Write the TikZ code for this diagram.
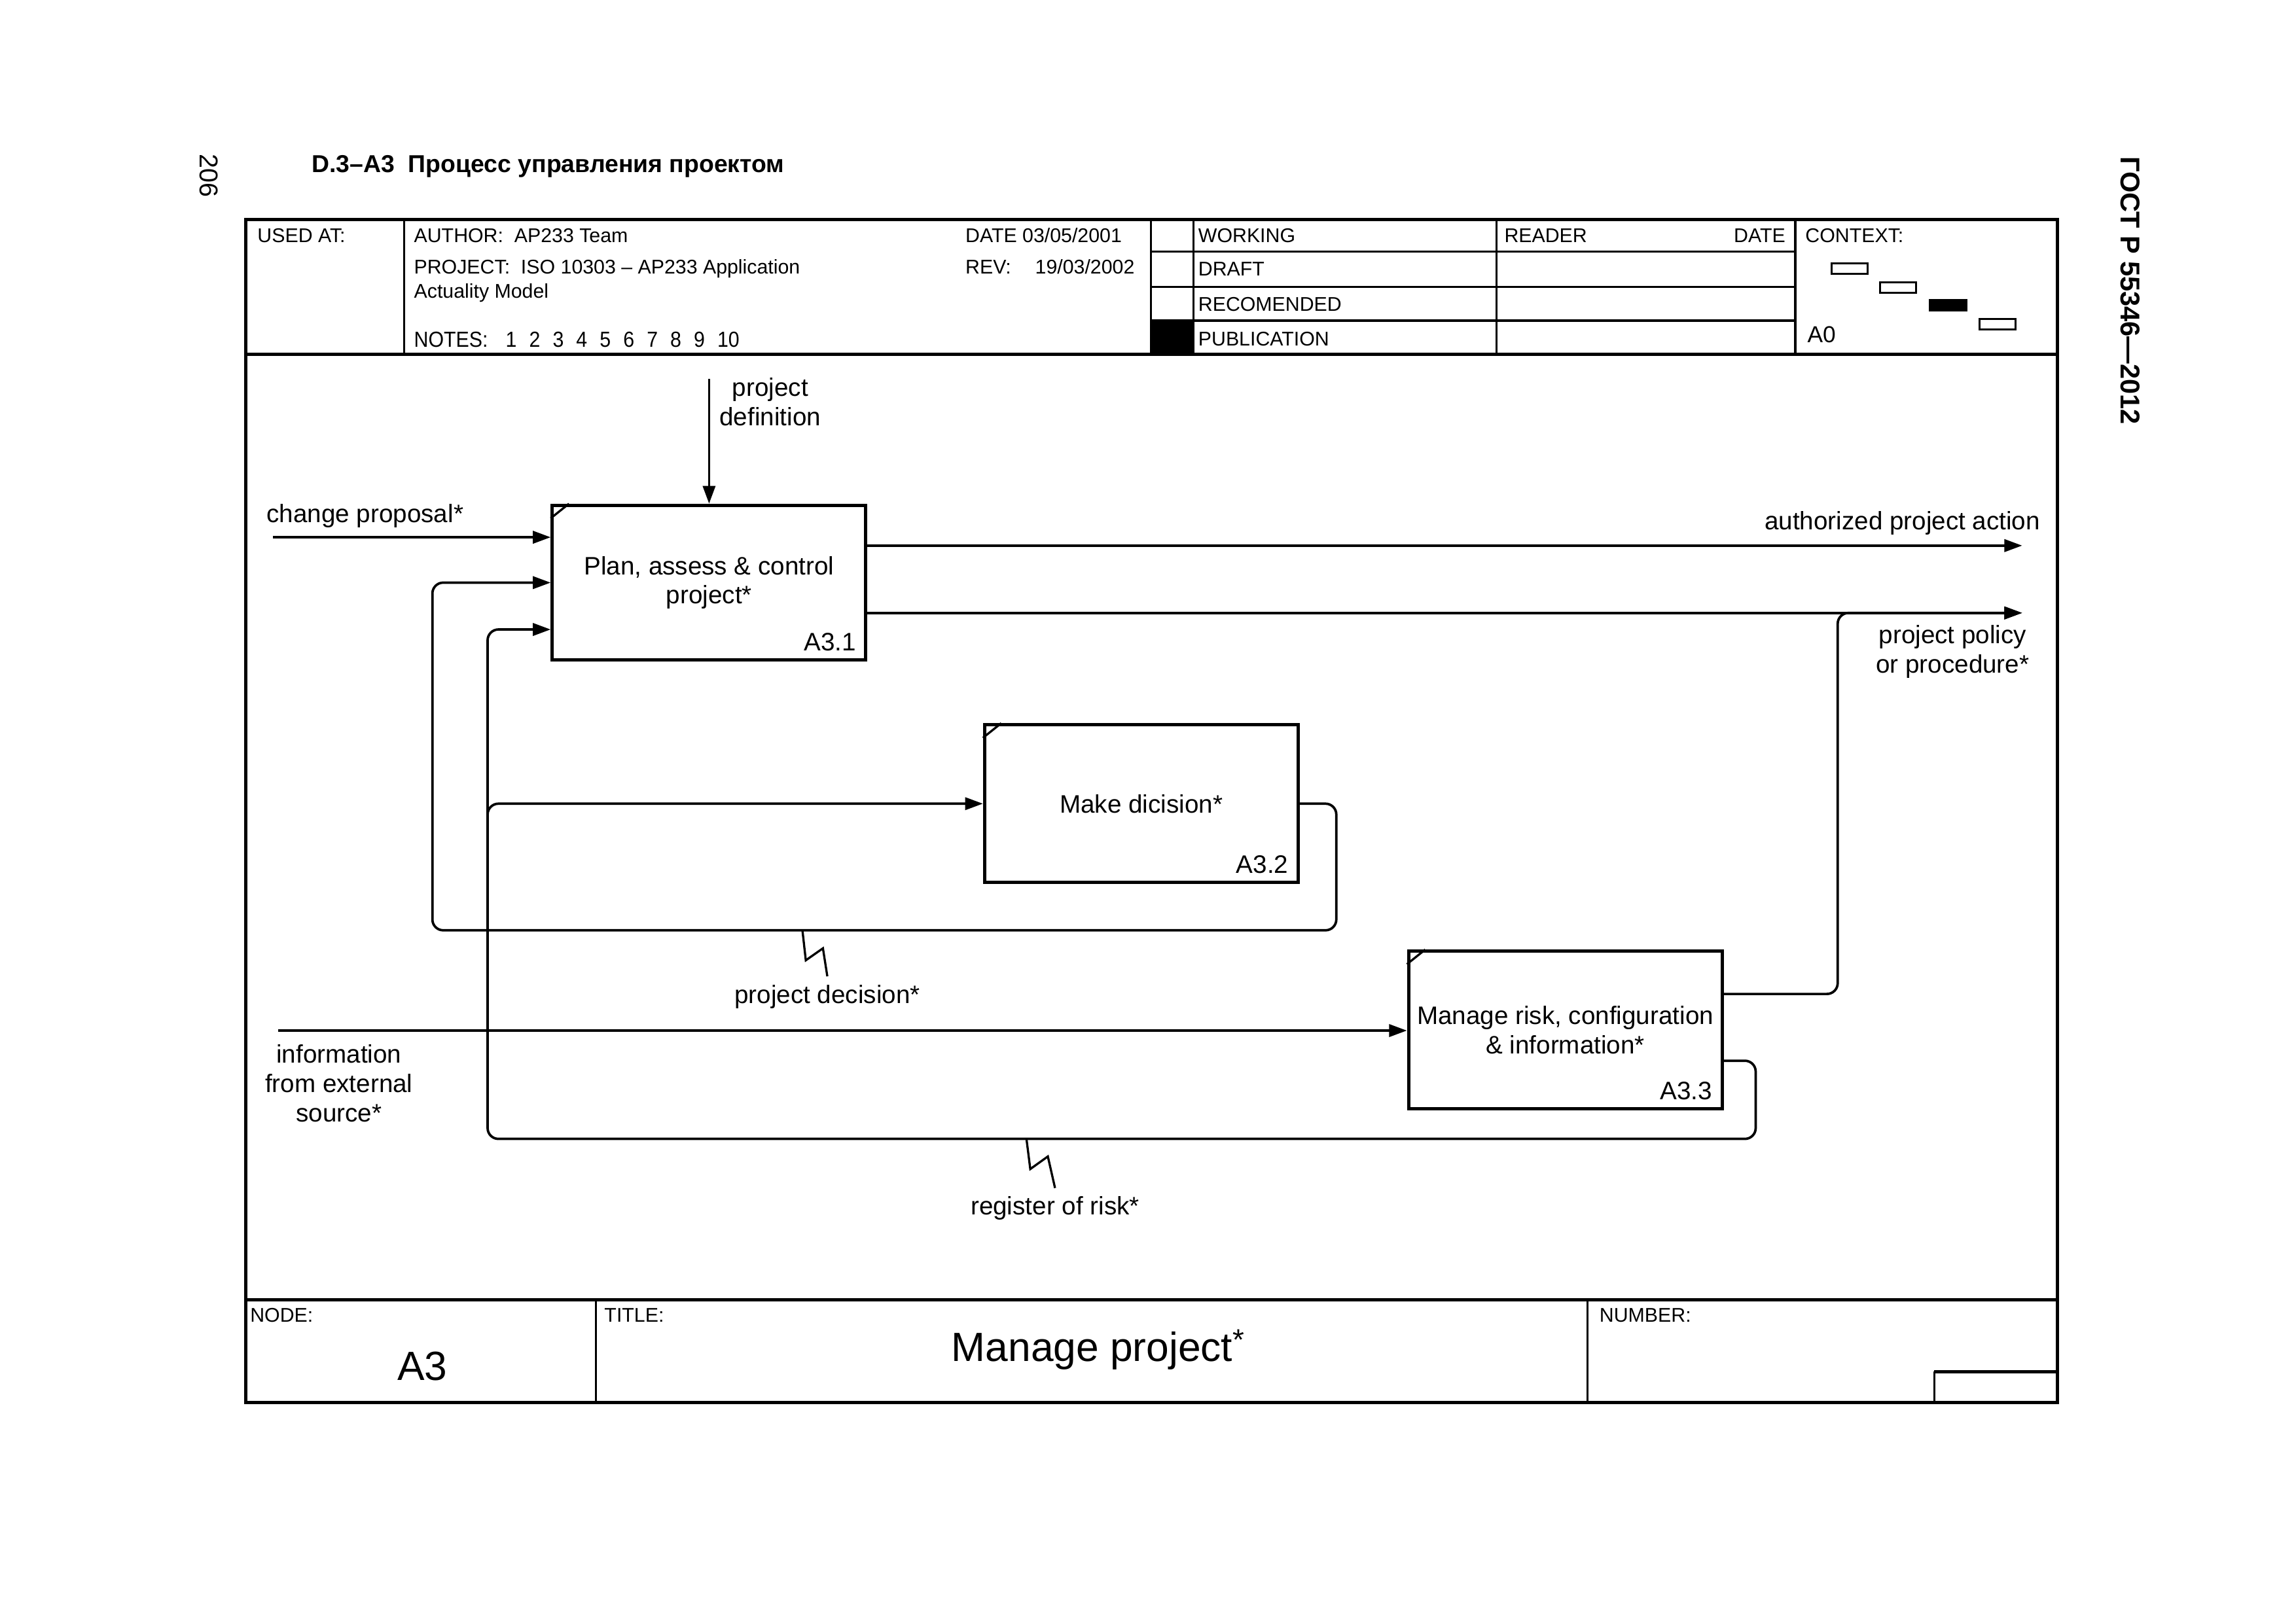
\documentclass[tikz,border=0pt]{standalone}
\usepackage{fontspec}
\setmainfont{Liberation Sans}
\usepackage{graphicx}
\usetikzlibrary{arrows.meta,positioning,calc}

\tikzset{
  >={Triangle[length=2.3mm,width=1.6mm]},
  frameline/.style={line width=1.2pt},
  divline/.style={line width=0.8pt},
  hdr/.style={anchor=base west, inner sep=0pt, font=\fontsize{7.3}{8.8}\selectfont},
  lbl/.style={inner sep=0pt, font=\fontsize{9.3}{10.8}\selectfont},
  actbox/.style={draw, line width=1.2pt, minimum width=4.055cm, minimum height=2.04cm,
    align=center, inner sep=0pt, font=\fontsize{9.3}{10.8}\selectfont},
  boxid/.style={anchor=base east, inner sep=0pt, font=\fontsize{9.3}{10.8}\selectfont},
  flow/.style={line width=0.9pt},
  squig/.style={line width=0.8pt},
}

\begin{document}
\begin{tikzpicture}[x=0.01894cm, y=-0.01894cm]
    \useasboundingbox (0,0) rectangle (1568,1109);

    % Page heading
    \node[anchor=base west, inner sep=0pt, font=\fontsize{9}{11}\selectfont\bfseries] (head)
        at (212.6,117.7) {D.3–A3\ \ Процесс управления проектом};
    \node[anchor=base west, inner sep=0pt, rotate=-90, font=\fontsize{10}{12}\selectfont\bfseries] (gost)
        at (1448.4,106.5) {ГОСТ Р 55346—2012};
    \node[anchor=base west, inner sep=0pt, rotate=-90, font=\fontsize{9.5}{11}\selectfont] (page)
        at (136.5,105) {206};

    % Frame
    \draw[frameline] (168,150) rectangle (1405,958);
    \draw[frameline] (168,242) -- (1405,242);
    \draw[frameline] (168,888) -- (1405,888);

    % Header block
    \foreach \x in {276,786,815,1022,1226}
        \draw[divline] (\x,150) -- (\x,242);
    \foreach \y in {172,196,219}
        \draw[divline] (786,\y) -- (1226,\y);
    \fill (786,219) rectangle (815,242);

    \node[hdr] (usedat) at (175.5,165.4) {USED AT:};
    \node[hdr] (author) at (282.4,165.4) {AUTHOR:\ \ AP233 Team};
    \node[hdr] (project) at (282.4,186.9) {PROJECT:\ \ ISO 10303 – AP233 Application};
    \node[hdr] (model) at (282.4,203.5) {Actuality Model};
    \node[hdr] (notes) at (282.4,237) {\scalebox{1}[1.1]{NOTES:}};
    \foreach \n in {1,...,10}
        \node[hdr] (note\n) at ({345+16.06*(\n-1)},237) {\scalebox{1}[1.1]{\n}};
    \node[hdr] (date) at (659,165.4) {DATE 03/05/2001};
    \node[hdr] (rev) at (659,186.9) {REV:};
    \node[hdr] (revdate) at (706.6,186.9) {19/03/2002};

    % Status and reader
    \node[hdr] (working) at (818,165.5) {WORKING};
    \node[hdr] (draft) at (818,188.5) {DRAFT};
    \node[hdr] (recom) at (818,212.5) {RECOMENDED};
    \node[hdr] (publ) at (818,236) {PUBLICATION};
    \node[hdr] (reader) at (1027,165.5) {READER};
    \node[hdr, anchor=base east] (rdate) at (1219.6,165.5) {DATE};

    % Context
    \node[hdr] (context) at (1232.6,165.5) {CONTEXT:};
    \node[hdr, font=\fontsize{8.5}{10}\selectfont] (ctxnode) at (1234,234) {A0};
    \draw[divline] (1251,180) rectangle (1275.5,187);
    \draw[divline] (1284,193) rectangle (1308.5,200);
    \filldraw[divline] (1318,205) rectangle (1343,212);
    \draw[divline] (1352,218) rectangle (1376.5,225);

    % Footer block
    \foreach \x in {407,1084}
        \draw[divline] (\x,888) -- (\x,958);
    \draw[divline] (1321,958) -- (1321,937);
    \draw[frameline] (1321,937) -- (1405,937);
    \node[hdr] (nodelbl) at (170.5,903) {NODE:};
    \node[hdr] (titlelbl) at (412.4,903) {TITLE:};
    \node[hdr] (numlbl) at (1092,903) {NUMBER:};
    \node[anchor=base, inner sep=0pt, font=\fontsize{15}{18}\selectfont] (nodeid) at (288.5,943) {A3};
    \node[anchor=base west, inner sep=0pt, font=\fontsize{15}{18}\selectfont] (title)
        at (649.5,929.8) {Manage project\raisebox{4pt}{\fontsize{11}{11}\selectfont*}};

    % Activities
    \node[actbox, minimum height=2cm] (b1) at (484.25,398) {Plan, assess \& control\\project*};
    \node[actbox] (b2) at (779.45,549) {Make dicision*};
    \node[actbox] (b3) at (1069,703.65) {Manage risk, configuration\\\& information*};
    \foreach \b/\id in {b1/A3.1,b2/A3.2,b3/A3.3} {
        \node[boxid] (\b id) at ($(\b.south east)+(-7.5,-7.5)$) {\id};
        \draw[divline] ($(\b.north west)+(0,10)$) -- ($(\b.north west)+(12.5,0)$);
    }

    % Control
    \coordinate (pdefIn) at (484.25,259);
    \draw[flow,->] (pdefIn) -- (b1.north);
    \node[lbl, align=center] (pdef) at (526,274.4) {project\\definition};

    % Inputs
    \coordinate (cpIn) at (186.4,367);
    \draw[flow,->] (cpIn) -- (cpIn -| b1.west);
    \node[lbl, anchor=base west] (cp) at (181.8,356.8) {change proposal*};

    \coordinate (infoIn) at (190,704);
    \draw[flow,->] (infoIn) -- (infoIn -| b3.west);
    \node[lbl, align=center] (info) at (231.5,740.2) {information\\from external\\source*};

    % Outputs
    \coordinate (apaOut) at (1381,372.7);
    \draw[flow,->] (b1.east |- apaOut) -- (apaOut);
    \node[lbl, anchor=base east] (apa) at (1393.6,362) {authorized project action};

    \coordinate (ppOut) at (1381,418.7);
    \coordinate (ppBend) at (1255,679);
    \draw[flow,->] (b1.east |- ppOut) -- (ppOut);
    \draw[flow,->,rounded corners=0.14cm] (b3.east |- ppBend) -- (ppBend) -- (ppBend |- ppOut) -- (ppOut);
    \node[lbl, align=center] (pp) at (1333.5,445) {project policy\\or procedure*};

    % Feedback: project decision
    \coordinate (pdR) at (912.6,635.5);
    \coordinate (pdL) at (295.3,398);
    \draw[flow,->,rounded corners=0.14cm] (b2.east) -- (b2.east -| pdR) -- (pdR)
        -- (pdR -| pdL) -- (pdL) -- (pdL -| b1.west);
    \coordinate (pdTap) at (548,635.5);
    \node[lbl, anchor=base, inner sep=3pt] (pd) at (565,685.4) {project decision*};
    \draw[squig] (pdTap) -- ++(2.3,20.5) -- ++(11.7,-8.2) -- (pd.north);

    % Feedback: register of risk
    \coordinate (rrR) at (1199,724.6);
    \coordinate (rrBot) at (1199,778);
    \coordinate (rrL) at (333,430);
    \coordinate (rrBr) at (333,575);
    \draw[flow,->,rounded corners=0.14cm] (b3.east |- rrR) -- (rrR) -- (rrBot)
        -- (rrBot -| rrL) -- (rrL) -- (rrL -| b1.west);
    \draw[flow,->,rounded corners=0.14cm] (rrBr) -- (rrBr |- b2.west) -- (b2.west);
    \coordinate (rrTap) at (701,778);
    \node[lbl, anchor=base, inner sep=3pt] (rr) at (720.5,830) {register of risk*};
    \draw[squig] (rrTap) -- ++(2.6,20.6) -- ++(12,-8.6) -- (rr.north);
\end{tikzpicture}
\end{document}
